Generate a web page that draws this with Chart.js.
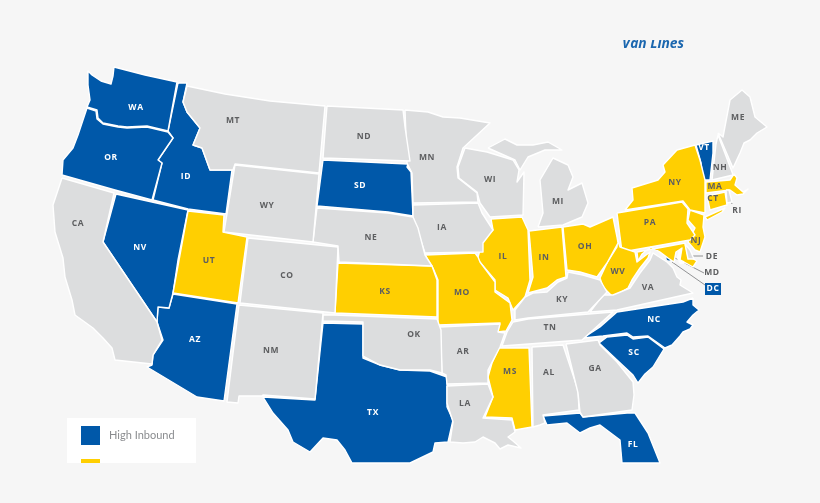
<!DOCTYPE html>
<html>
<head>
<meta charset="utf-8">
<title>High Inbound states</title>
<script src="https://cdn.jsdelivr.net/npm/chart.js@4"></script>
<style>
  html, body { margin: 0; padding: 0; background: #f6f6f6; overflow: hidden; }
  canvas { display: block; }
</style>
</head>
<body>
<canvas id="mapChart" width="820" height="503"></canvas>
<script>
// State outlines (x right, y down)
const WA = [[114,67],[145,75],[177,82],[168,131],[147,126],[127,127],[118,126],[103,123],[98,118],[97,110],[87,107],[90,100],[88,85],[88,71],[92,75],[101,81],[111,84],[113,76]];
const OR = [[87,108],[96,111],[97,119],[103,124],[118,127],[127,128],[147,127],[168,132],[173,138],[158,160],[162,163],[152,200],[115,190],[62,175],[63,160],[73,148],[78,135],[83,120]];
const ID = [[178,83],[187,83],[183,102],[187,112],[200,128],[193,145],[202,148],[210,170],[232,170],[226,214],[188,209],[153,200],[162,163],[158,160],[173,138],[168,131]];
const MT = [[187,86],[225,94],[270,101],[325,106],[319,173],[235,164],[233,170],[210,170],[202,148],[193,145],[200,128],[187,112],[183,102]];
const ND = [[327,106],[403,110],[405,127],[410,161],[323,158]];
const SD = [[323,160],[408,164],[407,167],[411,172],[413,216],[388,212],[317,206]];
const WY = [[235,165],[319,174],[313,242],[224,232]];
const NE = [[317,208],[388,213],[413,217],[418,228],[425,255],[432,266],[339,262],[338,246],[313,242]];
const CA = [[62,178],[114,193],[103,242],[157,322],[162,340],[153,355],[152,364],[115,360],[112,348],[103,338],[93,328],[75,315],[72,300],[65,277],[63,258],[55,232],[53,205],[58,190]];
const NV = [[116,194],[188,210],[178,260],[173,293],[169,308],[158,307],[157,322],[103,242]];
const UT = [[188,211],[224,215],[223,232],[247,237],[238,303],[173,293]];
const CO = [[248,238],[338,247],[335,313],[240,303]];
const KS = [[338,263],[432,266],[437,280],[437,317],[335,313]];
const NM = [[239,305],[323,313],[315,399],[263,395],[262,396],[239,396],[238,403],[227,402]];
const AZ = [[173,294],[237,304],[224,401],[197,397],[147,367],[152,365],[153,355],[163,340],[157,322],[158,307],[169,308]];
const TX = [[323,323],[363,324],[363,358],[380,365],[400,370],[430,371],[447,377],[447,407],[453,420],[448,442],[435,443],[433,452],[410,463],[352,463],[345,450],[337,440],[323,438],[310,452],[293,442],[288,430],[273,413],[263,397],[315,400]];
const OK = [[323,315],[334,315],[437,319],[441,330],[442,373],[430,370],[400,370],[380,365],[363,356],[363,322],[323,321]];
const AR = [[440,327],[500,324],[498,332],[505,333],[500,347],[488,370],[488,383],[447,384],[446,375],[442,373]];
const MO = [[425,255],[475,253],[478,257],[480,262],[495,282],[495,292],[510,303],[512,320],[506,331],[497,332],[500,323],[438,325],[438,280],[433,268]];
const IA = [[413,205],[478,203],[482,213],[493,230],[483,243],[483,252],[425,253],[413,217]];
const MN = [[405,110],[428,112],[443,117],[460,118],[490,123],[463,148],[457,167],[458,178],[477,193],[478,202],[413,203],[412,173],[407,163]];
const WI = [[465,148],[487,152],[513,160],[519,170],[517,182],[524,172],[523,215],[490,217],[480,203],[477,192],[459,178],[458,167]];
const MI_UPPER = [[488,148],[505,139],[517,145],[533,145],[548,142],[562,150],[545,150],[528,157],[520,170],[515,160]];
const MI_LOWER = [[538,227],[543,213],[540,180],[553,158],[568,165],[573,177],[568,190],[582,183],[588,203],[582,217],[563,225]];
const IL = [[491,219],[522,217],[528,230],[530,280],[525,297],[513,310],[508,298],[495,290],[495,280],[478,260],[478,257],[483,240],[493,230]];
const IN = [[529,231],[562,227],[566,277],[557,280],[547,288],[528,293],[533,277]];
const OH = [[563,227],[583,224],[590,227],[613,217],[617,237],[618,243],[607,263],[597,277],[580,272],[567,270]];
const KY = [[568,272],[583,275],[600,280],[607,292],[588,312],[528,318],[515,320],[515,310],[525,297],[533,293],[547,292],[558,282],[567,278]];
const TN = [[528,319],[613,312],[582,340],[502,346],[507,332],[513,322]];
const VA = [[590,312],[603,295],[613,295],[630,288],[640,273],[650,260],[653,253],[667,262],[673,268],[677,277],[681,280],[680,285],[693,293],[617,310]];
const NC = [[693,298],[683,302],[617,312],[600,327],[583,338],[603,336],[627,333],[633,337],[648,336],[665,348],[672,345],[680,336],[683,332],[690,329],[693,325],[687,322],[693,315],[699,310],[693,305]];
const SC = [[599,343],[607,337],[627,335],[633,339],[648,337],[664,349],[653,367],[645,374],[638,383],[633,375],[617,360]];
const GA = [[566,344],[598,340],[600,345],[617,362],[633,382],[634,395],[632,410],[583,417],[580,412],[578,393]];
const AL = [[532,347],[563,345],[578,390],[579,410],[543,415],[545,423],[540,425],[533,427]];
const FL = [[543,416],[580,413],[583,417],[627,413],[635,413],[648,433],[660,463],[622,463],[620,440],[600,425],[590,428],[580,433],[567,423],[547,425]];
const MS = [[499,348],[529,348],[532,427],[515,430],[512,418],[485,417],[493,397],[488,377],[492,363]];
const LA = [[447,386],[488,384],[493,397],[483,418],[512,420],[515,432],[508,437],[513,441],[521,448],[508,445],[500,449],[495,443],[483,437],[475,442],[463,443],[450,442],[453,422],[447,403]];
const WV = [[617,238],[620,247],[635,252],[637,262],[650,252],[648,258],[640,268],[632,280],[628,288],[613,297],[603,287],[600,278],[607,263],[617,247]];
const MD = [[637,252],[685,243],[688,256],[697,261],[693,267],[684,262],[680,260],[682,248],[676,252],[674,262],[668,258],[660,252],[651,247],[642,254],[638,261]];
const DE = [[685,244],[690,250],[694,259],[688,259]];
const PA = [[617,213],[623,212],[682,202],[688,209],[687,223],[695,235],[690,240],[622,252]];
const NY = [[625,210],[633,200],[632,188],[658,180],[665,172],[663,165],[677,150],[695,145],[700,160],[705,180],[705,213],[690,210],[683,201]];
const LONG_ISLAND = [[705,217],[725,208],[722,212],[707,220]];
const VT = [[696,145],[713,141],[713,153],[710,180],[703,180],[701,163]];
const NH = [[716,144],[718,135],[732,172],[733,175],[712,180]];
const ME = [[718,133],[723,137],[730,100],[742,90],[750,97],[755,117],[767,127],[757,133],[750,140],[744,143],[740,153],[733,168]];
const MA = [[706,182],[730,180],[734,174],[737,178],[735,185],[743,192],[748,189],[743,194],[737,195],[730,190],[706,193]];
const CT = [[707,196],[725,192],[727,205],[710,210]];
const RI = [[726,190],[729,190],[732,202],[727,203]];
const NJ = [[690,210],[704,215],[703,227],[705,237],[700,252],[695,250],[688,242],[695,228],[688,220]];
const PUGET_SOUND = [[116,84],[110,88],[103,94],[101,97],[106,97],[112,92],[115,88]];
const LAKE_PONTCHARTRAIN = [[503,431],[509,430],[511,433],[505,435]];
const CHESAPEAKE = [[679,250],[682,248],[680,260],[686,263],[680,264],[677,258]];

const greyStates = [MT, ND, WY, NE, CA, CO, NM, OK, AR, IA, MN, WI, MI_UPPER, MI_LOWER, KY, TN, VA, GA, AL, LA, DE, NH, ME, RI];
const blueStates = [WA, OR, ID, SD, NV, AZ, TX, NC, SC, FL, VT];
const yellowStates = [UT, KS, MO, IL, IN, OH, MS, WV, MD, PA, NY, LONG_ISLAND, MA, CT, NJ];
const waterShapes = [PUGET_SOUND, LAKE_PONTCHARTRAIN, CHESAPEAKE];

// Label leader lines and the DC dot
const deLeader = [[692,256],[703,256]];
const mdLeader = [[673,257],[704,273]];
const dcLeader = [[672,262],[705,285]];
const riLeader = [[730,198],[732,204]];
const dcDot = [[669,258]];

const darkLabels = ['MT','ND','WY','NE','CA','UT','CO','KS','NM','OK','AR','LA','MS','AL','GA','TN','KY','VA','WV','OH','IN','IL','MO','IA','MN','WI','MI','PA','NY','NH','ME','MA','CT','NJ','RI','DE','MD'];
const darkLabelXY = [[233,121],[364,137],[267,206],[371,238],[78,224],[209,261],[287,276],[385,292],[271,351],[414,335],[463,352],[465,404],[510,372],[549,373],[595,369],[550,328],[562,300],[648,288],[618,272],[585,247],[544,258],[503,257],[462,293],[442,228],[427,158],[490,180],[558,202],[650,223],[675,183],[720,168],[738,118],[715,187],[713,199],[696,241],[737,211],[712,257],[712,273]];
const lightLabels = ['WA','OR','ID','SD','NV','AZ','TX','FL','SC','NC','VT'];
const lightLabelXY = [[136,108],[111,158],[186,177],[360,186],[140,248],[195,340],[373,413],[633,445],[634,353],[654,320],[704,148]];

const BLUE = '#0058a9';
const YELLOW = '#ffcf01';
const GREY = '#dcddde';
const BORDER = '#ffffff';

function closed(points) {
  return points.concat([points[0]]);
}

function stateDataset(points, color) {
  return {
    data: closed(points),
    showLine: true,
    fill: 'shape',
    backgroundColor: color,
    borderColor: BORDER,
    borderWidth: 1.4,
    borderJoinStyle: 'round',
    pointRadius: 0,
    tension: 0
  };
}

function leaderDataset(points) {
  return { data: points, showLine: true, fill: false, borderColor: '#77787b', borderWidth: 0.8, pointRadius: 0 };
}

const datasets = [];
greyStates.forEach(s => datasets.push(stateDataset(s, GREY)));
yellowStates.forEach(s => datasets.push(stateDataset(s, YELLOW)));
blueStates.forEach(s => datasets.push(stateDataset(s, BLUE)));
waterShapes.forEach(s => datasets.push({ data: closed(s), showLine: true, fill: 'shape', backgroundColor: '#ffffff', borderColor: '#ffffff', borderWidth: 0.6, pointRadius: 0 }));
[deLeader, mdLeader, dcLeader, riLeader].forEach(l => datasets.push(leaderDataset(l)));
datasets.push({ data: dcDot, showLine: false, pointRadius: 2.5, pointBackgroundColor: BLUE, pointBorderWidth: 0 });

// Legend card, clipped logo text and the state abbreviations
const mapText = {
  id: 'mapText',
  beforeDatasetsDraw(chart) {
    const { ctx, scales: { x, y } } = chart;
    ctx.save();
    ctx.fillStyle = '#ffffff';
    ctx.fillRect(x.getPixelForValue(67), y.getPixelForValue(418), 129, 45);
    ctx.fillStyle = BLUE;
    ctx.fillRect(x.getPixelForValue(81), y.getPixelForValue(426), 19, 19);
    ctx.fillStyle = YELLOW;
    ctx.fillRect(x.getPixelForValue(81), y.getPixelForValue(459), 19, 4);
    ctx.fillStyle = '#8a8c8f';
    ctx.font = '11px Lato';
    ctx.textBaseline = 'middle';
    ctx.fillText('High Inbound', x.getPixelForValue(109), y.getPixelForValue(435));

    ctx.beginPath();
    ctx.rect(600, 40, 110, 15);
    ctx.clip();
    ctx.fillStyle = '#1b67af';
    ctx.font = 'italic bold 13.8px "Open Sans"';
    ctx.textBaseline = 'alphabetic';
    ctx.fillText('Van Lines', 622, 48);
    ctx.restore();
  },
  afterDatasetsDraw(chart) {
    const { ctx, scales: { x, y } } = chart;
    ctx.save();
    ctx.fillStyle = BLUE;
    ctx.fillRect(x.getPixelForValue(705), y.getPixelForValue(283), 16, 12);
    ctx.font = '700 8.5px "Open Sans"';
    ctx.textAlign = 'center';
    ctx.textBaseline = 'middle';
    ctx.letterSpacing = '0.6px';
    ctx.fillStyle = '#5d5e60';
    darkLabels.forEach((t, i) => ctx.fillText(t, x.getPixelForValue(darkLabelXY[i][0]), y.getPixelForValue(darkLabelXY[i][1])));
    ctx.fillStyle = '#ffffff';
    lightLabels.forEach((t, i) => ctx.fillText(t, x.getPixelForValue(lightLabelXY[i][0]), y.getPixelForValue(lightLabelXY[i][1])));
    ctx.fillText('DC', x.getPixelForValue(713), y.getPixelForValue(289));
    ctx.restore();
  }
};

new Chart(document.getElementById('mapChart').getContext('2d'), {
  type: 'scatter',
  data: { datasets },
  options: {
    responsive: false,
    animation: false,
    layout: { padding: 0, autoPadding: false },
    plugins: { legend: { display: false }, tooltip: { enabled: false } },
    scales: {
      x: { type: 'linear', min: 0, max: 820, display: false },
      y: { type: 'linear', min: 0, max: 503, reverse: true, display: false }
    }
  },
  plugins: [mapText]
});
</script>
</body>
</html>
